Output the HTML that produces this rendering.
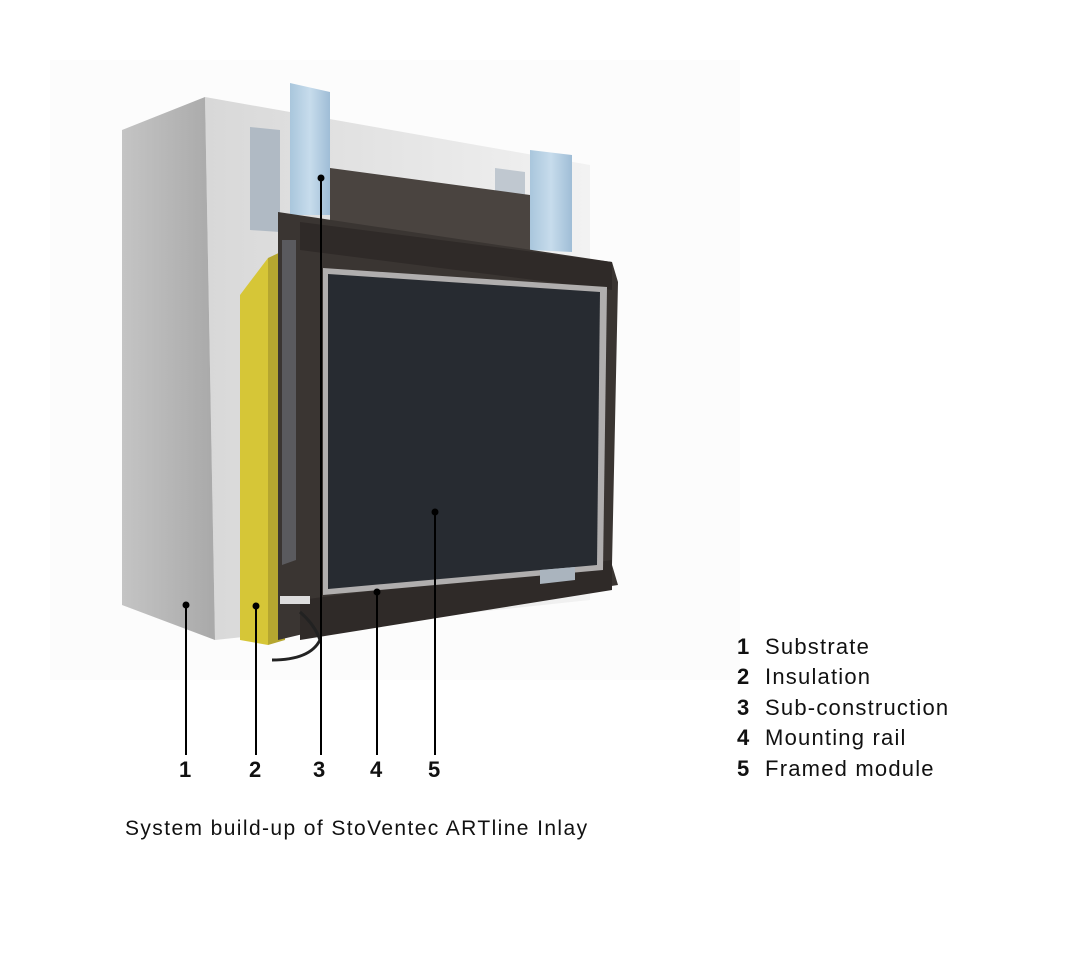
<!DOCTYPE html>
<html><head><meta charset="utf-8"><style>
body{margin:0;width:1088px;height:968px;background:#fff;overflow:hidden;font-family:"Liberation Sans",sans-serif;}
svg{position:absolute;left:0;top:0}
.t{position:absolute;color:#111;font-size:22px;line-height:1;letter-spacing:1.2px;white-space:nowrap}
b{font-weight:bold}
</style></head><body>
<svg width="1088" height="968" viewBox="0 0 1088 968">
<defs>
<linearGradient id="side" x1="0" x2="1"><stop offset="0" stop-color="#c4c4c4"/><stop offset="1" stop-color="#a9a9a9"/></linearGradient>
<linearGradient id="front" x1="0" x2="1"><stop offset="0" stop-color="#d8d8d8"/><stop offset="1" stop-color="#f2f2f2"/></linearGradient>
<linearGradient id="blue" x1="0" x2="1"><stop offset="0" stop-color="#a9c6dc"/><stop offset="0.5" stop-color="#c7dcec"/><stop offset="1" stop-color="#9fbdd6"/></linearGradient>
</defs>
<rect x="50" y="60" width="690" height="620" fill="#fcfcfc"/>
<polygon points="205,97 590,165 590,600 215,640" fill="url(#front)"/>
<polygon points="122,130 205,97 215,640 122,605" fill="url(#side)"/>
<polygon points="290,83 330,92 330,215 290,215" fill="url(#blue)"/>
<polygon points="250,127 280,130 280,232 250,230" fill="#b0bac4"/>
<polygon points="530,150 572,155 572,252 530,250" fill="url(#blue)"/>
<polygon points="495,168 525,172 525,208 495,205" fill="#c0c8d0"/>
<polygon points="330,168 530,195 530,250 330,222" fill="#4a4440"/>
<polygon points="240,295 268,258 268,645 240,640" fill="#d6c637"/>
<polygon points="268,258 285,250 285,640 268,645" fill="#b5a630"/>
<polygon points="278,212 612,262 618,282 612,565 618,585 320,630 278,640" fill="#3a3532"/>
<polygon points="300,222 612,262 612,290 300,250" fill="#2f2a28"/>
<polygon points="300,600 612,560 612,590 300,640" fill="#2f2a28"/>
<polygon points="323,268 607,287 603,570 323,595" fill="#b0aeae"/>
<polygon points="328,274 600,292 597,565 328,589" fill="#272b31"/>
<polygon points="282,240 296,240 296,560 282,565" fill="#5a5a5e"/>
<path d="M300,612 Q315,625 320,640 Q310,660 272,660" stroke="#222" stroke-width="3" fill="none"/>
<rect x="280" y="596" width="30" height="8" fill="#ddd"/>
<polygon points="540,570 575,567 575,580 540,584" fill="#aab4be"/>
<g stroke="#000" stroke-width="2">
<line x1="186" y1="605" x2="186" y2="755"/>
<line x1="256" y1="606" x2="256" y2="755"/>
<line x1="321" y1="178" x2="321" y2="755"/>
<line x1="377" y1="592" x2="377" y2="755"/>
<line x1="435" y1="512" x2="435" y2="755"/>
</g>
<g fill="#000">
<circle cx="186" cy="605" r="3.5"/><circle cx="256" cy="606" r="3.5"/><circle cx="321" cy="178" r="3.5"/><circle cx="377" cy="592" r="3.5"/><circle cx="435" cy="512" r="3.5"/>
</g>
</svg>
<div class="t" style="left:179px;top:759px"><b>1</b></div>
<div class="t" style="left:249px;top:759px"><b>2</b></div>
<div class="t" style="left:313px;top:759px"><b>3</b></div>
<div class="t" style="left:370px;top:759px"><b>4</b></div>
<div class="t" style="left:428px;top:759px"><b>5</b></div>
<div class="t" style="left:737px;top:636px"><b>1</b>&nbsp; Substrate</div>
<div class="t" style="left:737px;top:666px"><b>2</b>&nbsp; Insulation</div>
<div class="t" style="left:737px;top:697px"><b>3</b>&nbsp; Sub-construction</div>
<div class="t" style="left:737px;top:727px"><b>4</b>&nbsp; Mounting rail</div>
<div class="t" style="left:737px;top:758px"><b>5</b>&nbsp; Framed module</div>
<div class="t" style="left:125px;top:818px;font-size:21px;letter-spacing:1.4px">System build-up of StoVentec ARTline Inlay</div>
</body></html>
